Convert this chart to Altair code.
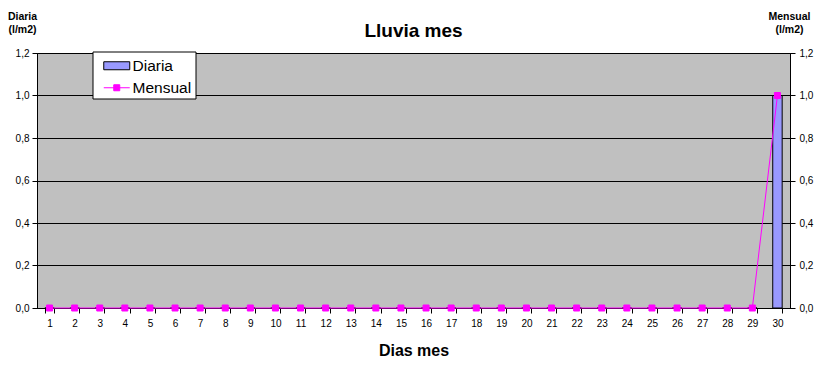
import altair as alt
import pandas as pd

# ---- data ----
dias = [1, 2, 3, 4, 5, 6, 7, 8, 9, 10, 11, 12, 13, 14, 15,
        16, 17, 18, 19, 20, 21, 22, 23, 24, 25, 26, 27, 28, 29, 30]
diaria = [0.0, 0.0, 0.0, 0.0, 0.0, 0.0, 0.0, 0.0, 0.0, 0.0, 0.0, 0.0, 0.0, 0.0, 0.0,
          0.0, 0.0, 0.0, 0.0, 0.0, 0.0, 0.0, 0.0, 0.0, 0.0, 0.0, 0.0, 0.0, 0.0, 1.0]
mensual = [0.0, 0.0, 0.0, 0.0, 0.0, 0.0, 0.0, 0.0, 0.0, 0.0, 0.0, 0.0, 0.0, 0.0, 0.0,
           0.0, 0.0, 0.0, 0.0, 0.0, 0.0, 0.0, 0.0, 0.0, 0.0, 0.0, 0.0, 0.0, 0.0, 1.0]
y_ticks = [0.0, 0.2, 0.4, 0.6, 0.8, 1.0, 1.2]

FONT = "Liberation Sans"
GRAY = "#C0C0C0"
BAR = "#9999FF"
MAG = "#FF00FF"
LABEL_EXPR = "replace(format(datum.value, '.1f'), '.', ',')"

df_d = pd.DataFrame({"dia": dias, "valor": diaria, "serie": "Diaria"})
df_m = pd.DataFrame({"dia": dias, "valor": mensual, "serie": "Mensual"})

x_enc = alt.X(
    "dia:O",
    scale=alt.Scale(paddingInner=0.625, paddingOuter=0.3125),
    axis=alt.Axis(
        title="Dias mes", labelAngle=0, tickBand="extent", grid=False,
        labelFont=FONT, labelFontSize=10, labelColor="black", labelPadding=5,
        tickSize=5, tickColor="black", domainColor="black",
        titleFont=FONT, titleFontSize=16, titleFontWeight="bold", titleColor="black",
        titleY=47, titleBaseline="alphabetic",
    ),
)

y_scale = alt.Scale(domain=[0, 1.2], nice=False, zero=True)

right_axis = alt.Axis(
    orient="right", values=y_ticks, labelExpr=LABEL_EXPR, grid=False,
    labelFont=FONT, labelFontSize=10, labelColor="black", labelPadding=4,
    tickSize=5, tickColor="black", domainColor="black",
    title=["Mensual", "(l/m2)"], titleAngle=0, titleAlign="center",
    titleBaseline="alphabetic", titleX=-1, titleY=-34,
    titleFont=FONT, titleFontSize=10.5, titleFontWeight="bold",
    titleColor="black", titleLineHeight=13.5,
)

rect_path = "M-2.6,-0.8H2.6V0.8H-2.6Z"
line_path = "M-2.6,0H2.6M-0.6,-0.6H0.6V0.6H-0.6Z"

bars = alt.Chart(df_d).mark_bar(stroke="black", strokeWidth=1).encode(
    x=x_enc,
    y=alt.Y(
        "valor:Q", scale=y_scale,
        axis=alt.Axis(
            orient="left", values=y_ticks, labelExpr=LABEL_EXPR,
            grid=True, gridColor="black", gridOpacity=1, gridWidth=1,
            labelFont=FONT, labelFontSize=10, labelColor="black", labelPadding=3,
            tickSize=5, tickColor="black", domainColor="black",
            title=["Diaria", "(l/m2)"], titleAngle=0, titleAlign="center",
            titleBaseline="alphabetic", titleX=-15, titleY=-34,
            titleFont=FONT, titleFontSize=10.5, titleFontWeight="bold",
            titleColor="black", titleLineHeight=13.5,
        ),
    ),
    fill=alt.Fill(
        "serie:N",
        scale=alt.Scale(domain=["Diaria"], range=[BAR]),
        legend=alt.Legend(
            title=None, orient="none", legendX=72, legendY=5, padding=0,
            symbolType=rect_path, symbolSize=100, symbolStrokeColor="black",
            symbolStrokeWidth=1, labelFont=FONT, labelFontSize=15.5,
            labelColor="black", labelOffset=8,
        ),
    ),
)

line = alt.Chart(df_m).mark_line(color=MAG, strokeWidth=1).encode(
    x=x_enc,
    y=alt.Y("valor:Q", scale=y_scale, axis=right_axis),
)

points = alt.Chart(df_m).mark_point(
    shape="square", filled=True, size=36, stroke=MAG, strokeWidth=1, opacity=1
).encode(
    x=x_enc,
    y=alt.Y("valor:Q", scale=y_scale, axis=right_axis),
    fill=alt.Fill(
        "serie:N",
        scale=alt.Scale(domain=["Mensual"], range=[MAG]),
        legend=alt.Legend(
            title=None, orient="none", legendX=72, legendY=27, padding=0,
            symbolType=line_path, symbolSize=100, symbolStrokeColor=MAG,
            symbolStrokeWidth=1, labelFont=FONT, labelFontSize=15.5,
            labelColor="black", labelOffset=8,
        ),
    ),
)

box = alt.Chart(pd.DataFrame({"k": [0]})).mark_rect(
    fill="white", stroke="black", strokeWidth=1
).encode(
    x=alt.value(56), x2=alt.value(159), y=alt.value(-1), y2=alt.value(46)
)

mensual_layer = alt.layer(line, points)

chart = alt.layer(bars, mensual_layer, box).resolve_scale(
    y="independent", fill="independent"
).properties(
    width=753, height=255,
    background="white",
    padding={"left": 29, "top": 45, "right": 40, "bottom": 50},
    autosize=alt.AutoSizeParams(type="none"),
    title=alt.Title(
        "Lluvia mes", font=FONT, fontSize=19, fontWeight="bold", color="black",
        anchor="middle", offset=16, baseline="alphabetic", dy=61,
    ),
).configure_view(
    fill=GRAY, stroke="black", strokeWidth=1
)

chart.save("out.html", embed_options={"renderer": "svg", "actions": False})
